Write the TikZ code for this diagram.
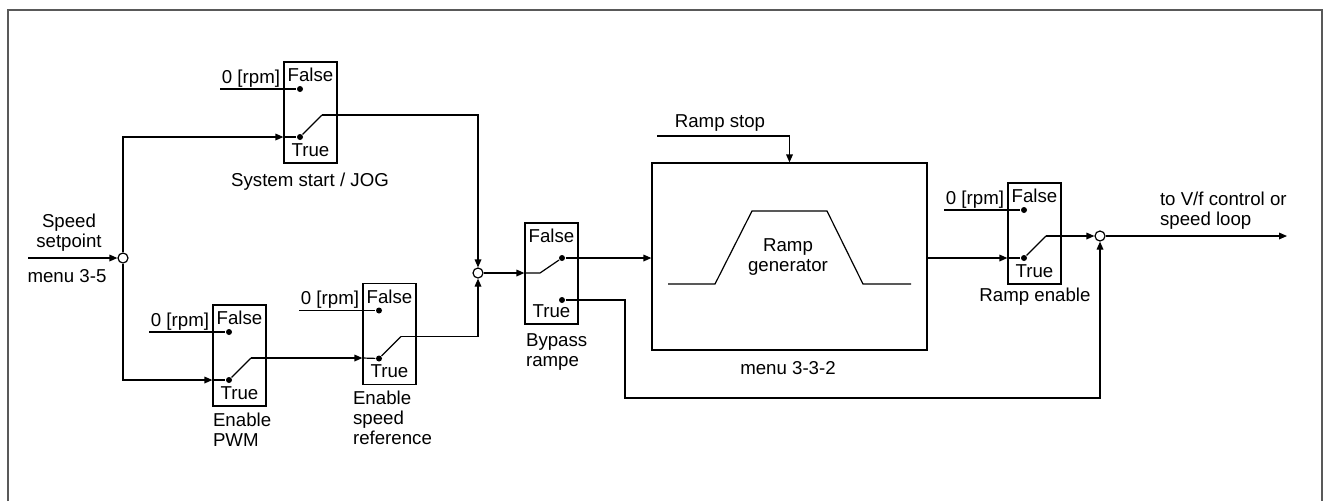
\documentclass[tikz,border=0pt]{standalone}
\usepackage{fontspec}
\setmainfont{Liberation Sans}
\usetikzlibrary{arrows.meta}

\begin{document}
\begin{tikzpicture}[x=0.75pt,y=-0.75pt,
  font=\fontsize{14}{15}\selectfont,line width=0.9pt,
  arr/.style={-{Triangle[length=6pt,width=5pt]}},
  swbox/.style={draw,minimum width=39.75pt,minimum height=75.75pt,inner sep=0pt},
  dot/.style={circle,fill,inner sep=0pt,minimum size=4.5pt},
  sumpt/.style={circle,draw,fill=white,inner sep=0pt,minimum size=7.5pt}]
 \useasboundingbox (0,0) rectangle (1324,501);
 \draw[line width=1.2pt,black!65] (8,501)--(8,10)--(1322,10)--(1322,501);
 % switches
 \foreach \n/\x/\y in {sys/310.5/112.5,pwm/239.5/355.5,ena/389.5/334,rmpen/1034.5/233.5}{
  \node[swbox] (\n) at (\x,\y) {};
  \node (\n fl) at (\x,\y-37.5) {False};
  \node (\n tl) at (\x,\y+37.5) {True};
  \node[dot] (\n F) at (\x-10.5,\y-23.5) {};
  \node[dot] (\n T) at (\x-10.5,\y+24.5) {};
  \coordinate (\n K) at (\x+11.5,\y+2.5);
  \coordinate (\n Z) at (\x-90.5,\y-23.5);
  \draw (\n Z) -- (\n F);
  \node[anchor=south west,inner sep=1pt] (\n zl) at (\n Z) {0 [rpm]};
  \draw (\n T) -- (\n K);
 }
 \node[swbox] (byp) at (551.5,273.5) {};
 \node (bypfl) at (551.5,236) {False};
 \node (byptl) at (551.5,311) {True};
 \node[dot] (bypF) at (562,258) {};
 \node[dot] (bypT) at (562,300) {};
 \coordinate (bypI) at (540,273);
 % summing points
 \node[sumpt] (sum1) at (123,258) {};
 \node[sumpt] (sum2) at (478,273) {};
 \node[sumpt] (sum3) at (1100,236) {};
 % ramp generator
 \node[draw,minimum width=206.25pt,minimum height=140.25pt] (ramp) at (789.5,256.5) {};
 \draw (668,284)--(715,284)--(752,211)--(827,211)--(863,284)--(911,284);
 \node[align=center] (rgen) at (788,257) {Ramp\\generator};
 \node (rmenu) at (788,368) {menu 3-3-2};
 \coordinate (rstop) at (657,136);
 \node (rstopl) at (720,123) {Ramp stop};
 % labels
 \node[align=center] (spl) at (69,233) {Speed\\setpoint};
 \node (spmenu) at (67,276) {menu 3-5};
 \node (sysl) at (310,182) {System start / JOG};
 \node[align=left,anchor=west] (pwml) at (208,430) {Enable\\PWM};
 \node[align=left,anchor=west] (enal) at (348,418) {Enable\\speed\\reference};
 \node[align=left,anchor=west] (bypl) at (521,352) {Bypass\\rampe};
 \node (rmpenl) at (1035,297) {Ramp enable};
 \node[align=left,anchor=west] (outl) at (1155,211) {to V/f control or\\speed loop};
 % signal lines
 \coordinate (sp) at (28,258);
 \coordinate (out) at (1287,236);
 \coordinate (bend) at (625,398);
 \draw[arr] (sp) -- (sum1);
 \draw[arr] (sum1) |- (sys.west |- sysT);
 \draw (sys.west |- sysT) -- (sysT);
 \draw[arr] (sysK) -| (sum2);
 \draw[arr] (sum1) |- (pwm.west |- pwmT);
 \draw (pwm.west |- pwmT) -- (pwmT);
 \draw[arr] (pwmK) -- (ena.west |- pwmK);
 \draw (ena.west |- pwmK) -- (enaT);
 \draw[arr] (enaK) -| (sum2);
 \draw[arr] (sum2) -- (byp.west |- sum2);
 \draw (byp.west |- sum2) -- (bypI) -- (bypF);
 \draw[arr] (bypF) -- (ramp.west |- bypF);
 \draw[arr] (rstop) -| (ramp.north);
 \draw[arr] (ramp.east |- rmpenT) -- (rmpen.west |- rmpenT);
 \draw (rmpen.west |- rmpenT) -- (rmpenT);
 \draw[arr] (rmpenK) -- (sum3);
 \draw[arr] (bypT) -| (bend) -| (sum3);
 \draw[arr] (sum3) -- (out);
\end{tikzpicture}
\end{document}
